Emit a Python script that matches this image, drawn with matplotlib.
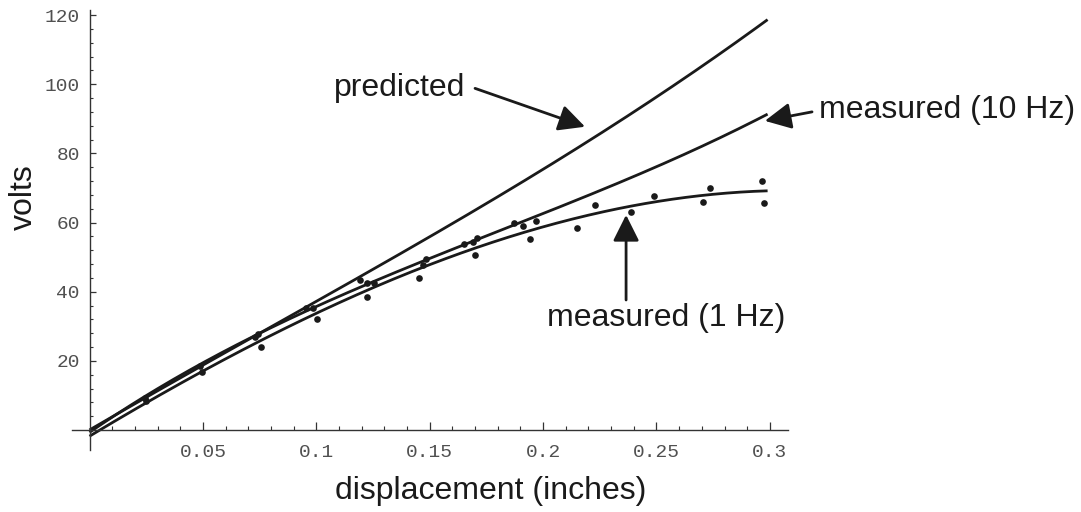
import numpy as np
import matplotlib
matplotlib.use("Agg")
import matplotlib.pyplot as plt
from matplotlib.ticker import FixedLocator, FixedFormatter

# ---- data ----
# scattered measurements (displacement in inches, volts)
pts_x = [0.0243, 0.0248, 0.0487, 0.0495, 0.0730, 0.0745, 0.0755, 0.0955, 0.0986,
         0.1005, 0.1193, 0.1225, 0.1254, 0.1225, 0.1453, 0.1472, 0.1482, 0.1651,
         0.1691, 0.1710, 0.1701, 0.1870, 0.1910, 0.1969, 0.1942, 0.2151, 0.2229,
         0.2388, 0.2487, 0.2706, 0.2736, 0.2967, 0.2974]
pts_y = [9.2, 8.4, 18.6, 16.7, 27.0, 27.8, 23.9, 35.2, 35.2,
         32.0, 43.4, 42.4, 42.6, 38.5, 44.1, 47.7, 49.5, 53.8,
         54.3, 55.6, 50.6, 60.0, 59.0, 60.4, 55.1, 58.5, 65.2,
         63.0, 67.8, 65.8, 70.0, 72.1, 65.6]

# curves: samples
pred_x = [0.0, 0.1149, 0.1707, 0.1840, 0.2427, 0.2986]
pred_y = [0.0, 42.9, 63.6, 68.9, 93.4, 118.4]

hz10_x = [0.0, 0.0245, 0.1149, 0.1830, 0.2030, 0.2427, 0.2470, 0.2670, 0.2986]
hz10_y = [0.0, 8.7, 40.7, 57.9, 63.6, 73.7, 75.2, 81.3, 91.3]

hz1_x = [0.0, 0.0245, 0.1149, 0.1193, 0.1810, 0.1854, 0.2380, 0.2427, 0.2470, 0.2993]
hz1_y = [-2.4, 8.6, 38.0, 39.3, 54.9, 55.9, 64.6, 65.6, 65.8, 69.0]

x_ticks = [0.05, 0.1, 0.15, 0.2, 0.25, 0.3]
x_tick_labels = ["0.05", "0.1", "0.15", "0.2", "0.25", "0.3"]
y_ticks = [20, 40, 60, 80, 100, 120]
y_tick_labels = ["20", "40", "60", "80", "100", "120"]

curve_end = 0.299

# ---- figure ----
W, H = 1081, 512
fig = plt.figure(figsize=(W / 100, H / 100), dpi=100)
ax = fig.add_axes([72 / W, 62 / H, 716 / W, 440 / H])
ax.set_xlim(-0.00772, 0.308)
ax.set_ylim(-5.78, 121.46)

line_kw = dict(color="#1a1a1a", lw=2.0, solid_capstyle="butt")
xs = np.linspace(0, curve_end, 300)
for cx, cy in [(pred_x, pred_y), (hz10_x, hz10_y), (hz1_x, hz1_y)]:
    coef = np.polyfit(cx, cy, 3)
    ax.plot(xs, np.polyval(coef, xs), **line_kw)

ax.plot(pts_x, pts_y, "o", color="#1a1a1a", ms=4.8, mec="none")

# axes styled like crossing axes through the origin
for s in ["top", "right"]:
    ax.spines[s].set_visible(False)
ax.spines["left"].set_position(("data", 0))
ax.spines["bottom"].set_position(("data", 0))
for s in ["left", "bottom"]:
    ax.spines[s].set_linewidth(1.0)
    ax.spines[s].set_color("#333333")

ax.xaxis.set_major_locator(FixedLocator(x_ticks))
ax.xaxis.set_major_formatter(FixedFormatter(x_tick_labels))
ax.yaxis.set_major_locator(FixedLocator(y_ticks))
ax.yaxis.set_major_formatter(FixedFormatter(y_tick_labels))
ax.xaxis.set_minor_locator(FixedLocator(np.arange(0.01, 0.305, 0.01)))
ax.yaxis.set_minor_locator(FixedLocator(np.arange(4, 121, 4)))

mono = "Liberation Mono"
ax.tick_params(axis="x", which="major", direction="in", length=6, width=0.9,
               color="#333333", pad=10, labelsize=14, labelcolor="#505050")
ax.tick_params(axis="x", which="minor", direction="in", length=3, width=0.8,
               color="#333333")
ax.tick_params(axis="y", which="major", direction="in", length=4, width=0.9,
               color="#333333", pad=7, labelsize=14, labelcolor="#505050")
ax.tick_params(axis="y", which="minor", direction="in", length=2.2, width=0.8,
               color="#333333")
for lab in ax.get_xticklabels() + ax.get_yticklabels():
    lab.set_family(mono)

sans = "Liberation Sans"
ax.set_xlabel("displacement (inches)", family=sans, fontsize=23, color="#1a1a1a",
              va="center")
ax.xaxis.set_label_coords(0.5845, -0.093)
ax.set_ylabel("volts", family=sans, fontsize=23, color="#1a1a1a", va="center")
ax.yaxis.set_label_coords(-0.067, 0.575)

arrow = dict(arrowstyle="-|>,head_length=16,head_width=8", mutation_scale=1,
             color="#1a1a1a", lw=2.0, shrinkA=0, shrinkB=0)

ax.annotate("", xy=(0.2185, 87.7), xytext=(0.1700, 98.8), arrowprops=arrow,
            annotation_clip=False)
ax.text(0.1369, 99.0, "predicted", family=sans, fontsize=23, color="#1a1a1a",
        ha="center", va="center", clip_on=False)

ax.annotate("", xy=(0.2978, 89.4), xytext=(0.3186, 92.0), arrowprops=arrow,
            annotation_clip=False)
ax.text(0.3215, 92.4, "measured (10 Hz)", family=sans, fontsize=23,
        color="#1a1a1a", ha="left", va="center", clip_on=False)

ax.annotate("", xy=(0.2366, 62.2), xytext=(0.2366, 37.6), arrowprops=arrow,
            annotation_clip=False)
ax.text(0.2542, 32.4, "measured (1 Hz)", family=sans, fontsize=23,
        color="#1a1a1a", ha="center", va="center", clip_on=False)

fig.savefig("out.png", dpi=100)
